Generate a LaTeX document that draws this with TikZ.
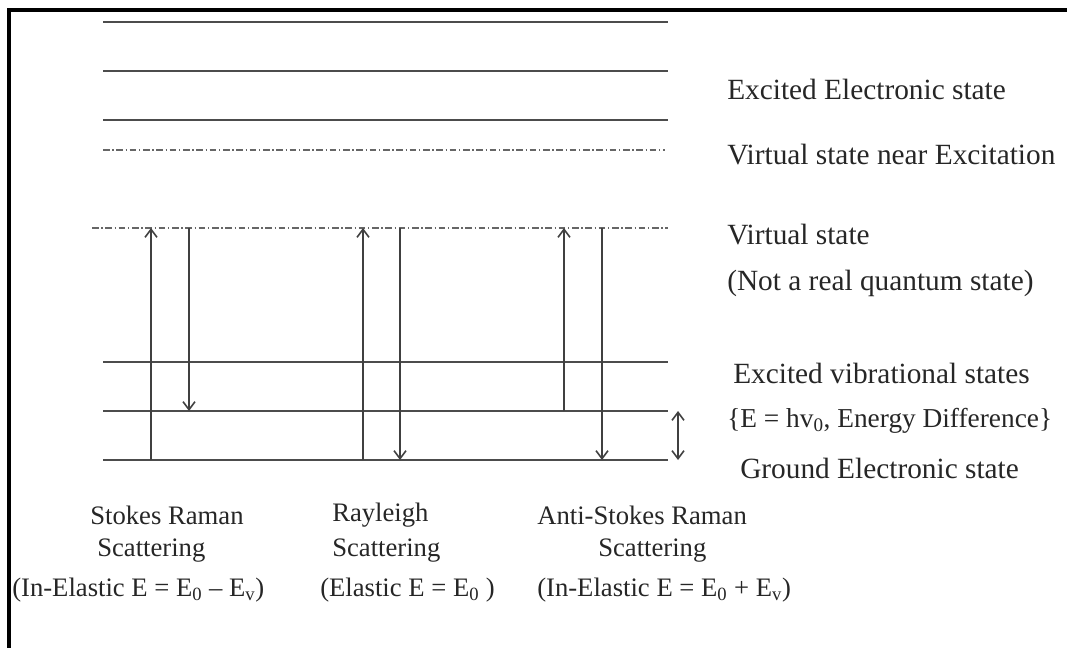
\documentclass[tikz,border=0pt]{standalone}
\usepackage{fontspec}
\setmainfont{Liberation Serif}
\usetikzlibrary{arrows.meta}

\begin{document}
\begin{tikzpicture}[
  x=0.75pt,y=-0.75pt,
  level/.style={draw=black!70,line width=1.9pt},
  virt/.style={draw=black!60,line width=1.4pt,dash pattern=on 5pt off 2pt on 1pt off 2pt},
  arr/.style={-{Straight Barb[length=6pt,width=9pt]},draw=black!75,line width=1.2pt},
  lbl/.style={anchor=west,inner sep=0pt,font=\fontsize{22}{26}\selectfont,text=black!85},
  sclbl/.style={lbl,font=\fontsize{20}{24}\selectfont},
  frame/.style={draw=black,line width=2.4pt}
]
\useasboundingbox (0,0) rectangle (1067,648);
\draw[frame] (1070,10) -| (9,652);

% energy levels
\foreach \name/\y in {exA/22,exB/71,exC/120,vibB/362,vibA/411,gnd/460}{
  \coordinate (\name-l) at (103,\y);
  \coordinate (\name-r) at (668,\y);
  \draw[level] (\name-l) -- (\name-r);
}
\coordinate (near-l) at (103,150); \coordinate (near-r) at (665,150);
\coordinate (vs-l) at (92,228); \coordinate (vs-r) at (668,228);
\draw[virt] (near-l) -- (near-r);
\draw[virt] (vs-l) -- (vs-r);

% transitions
\foreach \x/\from/\to in {151/gnd/vs,189/vs/vibA,363/gnd/vs,400/vs/gnd,564/vibA/vs,602/vs/gnd}
  \draw[arr] (\x,0 |- \from-l) -- (\x,0 |- \to-l);
\draw[arr,{Straight Barb[length=6pt,width=9pt]}-{Straight Barb[length=6pt,width=9pt]}]
  (678,0 |- vibA-l) -- (678,0 |- gnd-l);

% state labels
\node[lbl] (exel) at (727,89) {Excited Electronic state};
\node[lbl] (near) at (727,155) {Virtual state near Excitation};
\node[lbl] (vsl) at (727,235) {Virtual state};
\node[lbl] (notreal) at (727,283) {(Not a real quantum state)};
\node[lbl] (exvib) at (733,373) {Excited vibrational states};
\node[lbl,font=\fontsize{20.5}{24}\selectfont] (ediff) at (727,421) {\{E = hv\textsubscript{0}, Energy Difference\}};
\node[lbl] (ground) at (740,468) {Ground Electronic state};

% scattering labels
\node[sclbl] (stA) at (90,515) {Stokes Raman};
\node[sclbl] (stB) at (97,551) {Scattering};
\node[sclbl] (stC) at (12,590) {(In-Elastic E = E\textsubscript{0} -- E\textsubscript{v})};
\node[sclbl] (raA) at (332,515) {Rayleigh};
\node[sclbl] (raB) at (332,551) {Scattering};
\node[sclbl] (raC) at (320,590) {(Elastic E = E\textsubscript{0} )};
\node[sclbl] (asA) at (537,515) {Anti-Stokes Raman};
\node[sclbl] (asB) at (598,551) {Scattering};
\node[sclbl] (asC) at (537,590) {(In-Elastic E = E\textsubscript{0} + E\textsubscript{v})};
\end{tikzpicture}
\end{document}
